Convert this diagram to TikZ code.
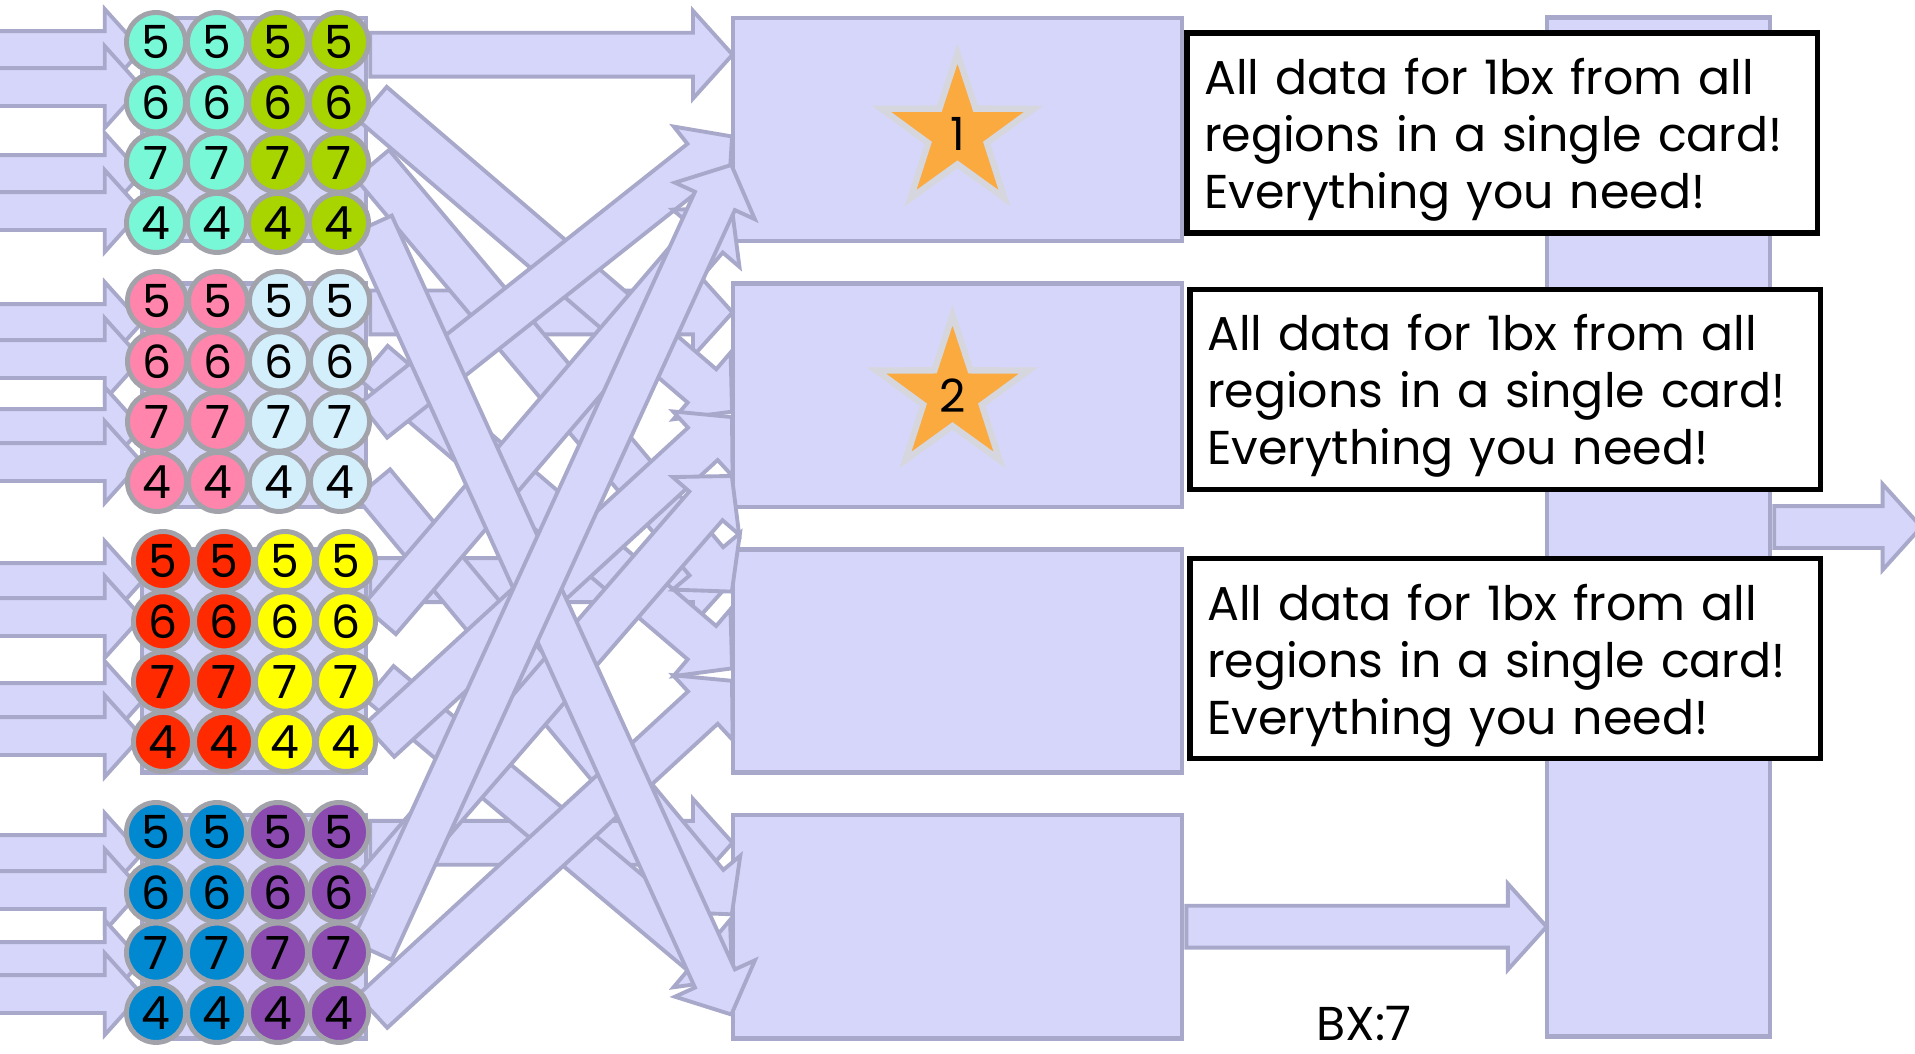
\documentclass[tikz,border=0pt]{standalone}
\usepackage{fontspec}
\setmainfont{Poppins}
\usetikzlibrary{positioning, shapes.geometric, shapes.arrows, calc}
\definecolor{Lavender}{HTML}{D6D6FA}
\definecolor{LavEdge}{HTML}{A8A8CA}
\definecolor{DotEdge}{HTML}{A2A2AA}
\definecolor{Aqua}{HTML}{78F8D6}
\definecolor{Lime}{HTML}{A8D400}
\definecolor{Rose}{HTML}{FF85AC}
\definecolor{Sky}{HTML}{D3EFFC}
\definecolor{Scarlet}{HTML}{FF2A00}
\definecolor{Lemon}{HTML}{FFFF00}
\definecolor{Ocean}{HTML}{0088D0}
\definecolor{Grape}{HTML}{8A4AB0}
\definecolor{Amber}{HTML}{FBAA40}
\definecolor{StarEdge}{HTML}{D6D6DE}
\pgfdeclarelayer{under}
\pgfdeclarelayer{flow}
\pgfsetlayers{under,flow,main}
\newcommand\blockarr[3][]{%
  \path let \p1=($(#3)-(#2)$), \n1={atan2(\y1,\x1)}, \n2={veclen(\x1,\y1)} in
    node[barrow, #1, rotate=\n1, minimum height=\n2, anchor=tail] at (#2) {};}

\begin{document}
\begin{tikzpicture}[x=0.01cm, y=-0.01cm,
          card/.style={rectangle, draw=LavEdge, fill=Lavender, line width=1.3pt,
                        minimum width=4.49cm, minimum height=2.23cm, inner sep=0pt},
          grid/.style={card, minimum width=2.24cm},
          barrow/.style={single arrow, draw=LavEdge, fill=Lavender, line width=1.1pt,
                        single arrow head extend=0.22cm, single arrow tip angle=96,
                        inner xsep=0pt, inner ysep=0.2cm},
          dot/.style={circle, draw=DotEdge, line width=1.4pt, minimum size=0.59cm,
                        inner sep=0pt, font=\fontsize{13}{13}\selectfont},
          note/.style={rectangle, draw=black, fill=white, line width=1.5pt,
                        text width=5.96cm, inner xsep=0.17cm, minimum height=1.91cm,
                        align=left, font=\fontsize{13.5}{16.2}\selectfont,
                        execute at begin node=\rule{0pt}{14.2pt}},
          badge/.style={star, star points=5, star point ratio=2.6, fill=Amber,
                        draw=StarEdge, line width=1.8pt, minimum size=1.6cm,
                        inner sep=0pt, font=\fontsize{13}{13}\selectfont},
          node distance=0.38cm
        ]
          \useasboundingbox (0,0) rectangle (1915,1053);
          % cards, region grids and the collecting bar at the back
          \begin{pgfonlayer}{under}
            \node[card] (b1) at (957.5,129.5) {};
            \node[card, below=of b1] (b2) {};
            \node[card, below=of b2] (b3) {};
            \node[card, below=of b3] (b4) {};
            \node[grid] (g1) at (254,129.5) {};
            \node[grid, below=of g1] (g2) {};
            \node[grid, below=of g2] (g3) {};
            \node[grid, below=of g3] (g4) {};
            \node[card, minimum width=2.23cm, minimum height=10.18cm] (bar) at (1658.5,527) {};
          \end{pgfonlayer}
          % region circles
          \foreach \grp/\ytop/\xoff/\ca/\cbb in {1/42/0/Aqua/Lime, 2/301/1/Rose/Sky,
                                                3/561/7/Scarlet/Lemon, 4/832/0/Ocean/Grape}
            \foreach \digit [count=\row] in {5,6,7,4}
              \foreach \col in {1,...,4} {
                \ifnum\col<3 \def\shade{\ca}\else\def\shade{\cbb}\fi
                \node[dot, fill=\shade] (c-\grp-\row-\col)
                  at ({156+61*(\col-1)+\xoff}, {\ytop+60.3*(\row-1)}) {\digit};
              }
          % entry points on the cards
          \foreach \bx/\slot/\dy in {1/1/39, 1/2/122, 1/3/151, 1/4/194,
                                     2/1/31, 2/2/129, 2/3/137, 2/4/196,
                                     3/1/33, 3/2/43, 3/3/120, 3/4/135,
                                     4/1/30, 4/2/100, 4/3/165, 4/4/200}
            \coordinate (t-\bx-\slot) at ($(b\bx.north west)+(0,\dy)$);
          \begin{pgfonlayer}{flow}
            % inputs into the regions
            \foreach \grp/\yin [count=\idx] in {1/50, 1/87, 1/174, 1/211, 2/323, 2/359, 2/428, 2/462,
                                              3/582, 3/617, 3/702, 3/736, 4/854, 4/890, 4/961, 4/994} {
              \coordinate (in-\idx) at (-5,\yin);
              \blockarr[inner ysep=0.17cm]{in-\idx}{g\grp.west |- in-\idx}
            }
            % straight links
            \foreach \grp in {1,...,4}
              \blockarr{g\grp.east |- t-\grp-1}{t-\grp-1};
            % crossing links
            \foreach \grp/\row/\bx/\slot in {2/2/3/3, 1/2/2/2, 1/3/3/2, 2/4/4/2, 3/3/4/3, 2/3/1/2,
                                             3/2/1/4, 3/4/2/3, 4/4/3/4, 4/2/2/4, 1/4/4/4, 4/3/1/3}
              \blockarr{c-\grp-\row-4.east}{t-\bx-\slot};
          \end{pgfonlayer}
          \node[badge] (s1) at ($(b1.center)+(0,4)$) {1};
          \node[badge] (s2) at ($(b2.center)+(-5,0)$) {2};
          \blockarr[inner ysep=0.19cm]{b4.east}{b4.east -| bar.west}
          \coordinate (out) at ($(bar.east)+(147,0)$);
          \blockarr[inner ysep=0.19cm]{bar.east}{out}
          \node[note, anchor=west] (n1) at ($(b1.east)+(0,3.5)$)
            {All data for 1bx from all\\regions in a single card!\\Everything you need!};
          \node[note, anchor=west] (n2) at ($(b2.east)+(3,-6)$)
            {All data for 1bx from all\\regions in a single card!\\Everything you need!};
          \node[note, anchor=west] (n3) at ($(b3.east)+(3,-2.5)$)
            {All data for 1bx from all\\regions in a single card!\\Everything you need!};
          \node[font=\fontsize{13.5}{13.5}\selectfont, anchor=base] (bx) at (1364,1040) {BX:7};
        \end{tikzpicture}
\end{document}
